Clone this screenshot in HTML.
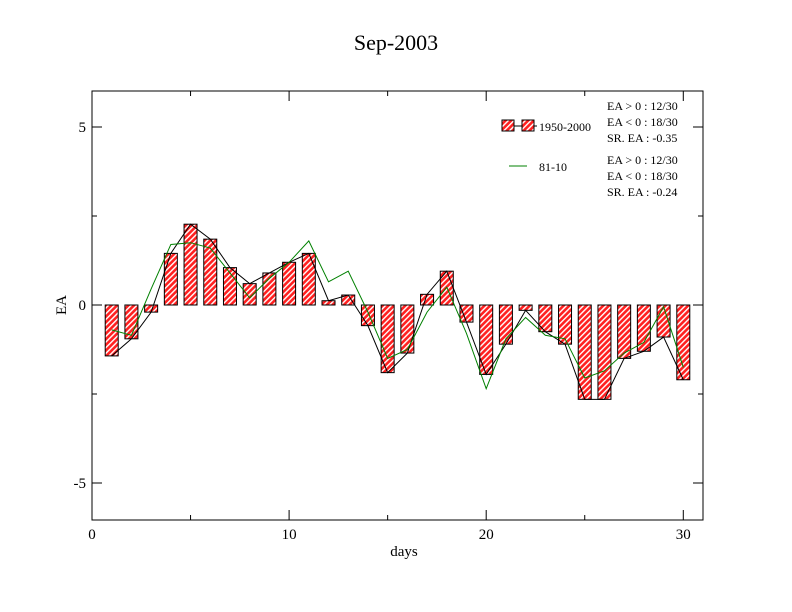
<!DOCTYPE html>
<html><head><meta charset="utf-8"><style>
body{margin:0;background:#fff}
svg{display:block;font-family:"Liberation Serif",serif}
</style></head><body>
<svg width="792" height="612">
<defs>
<pattern id="hatch" width="4" height="4" patternUnits="userSpaceOnUse" patternTransform="rotate(45)">
<rect width="4" height="4" fill="#ff2020"/><rect width="1.4" height="4" fill="#fff"/>
</pattern>
</defs>
<text x="396" y="50" font-size="22" text-anchor="middle">Sep-2003</text>
<rect x="92" y="91" width="611" height="429" fill="none" stroke="#000"/>
<g id="axes"></g>
<g id="bars"></g>
<g id="lines"></g>
<text x="404" y="556" font-size="15" text-anchor="middle">days</text>
<text x="66" y="305" font-size="15" text-anchor="middle" transform="rotate(-90 66 305)">EA</text>
<g font-size="12">
<line x1="502" y1="126" x2="537" y2="126" stroke="#000"/>
<rect x="502" y="120" width="12" height="11" fill="url(#hatch)" stroke="#000"/>
<rect x="522" y="120" width="12" height="11" fill="url(#hatch)" stroke="#000"/>
<text x="539" y="131">1950-2000</text>
<line x1="509" y1="166" x2="527" y2="166" stroke="#008000"/>
<text x="539" y="171">81-10</text>
<text x="607" y="110">EA &gt; 0 : 12/30</text>
<text x="607" y="126">EA &lt; 0 : 18/30</text>
<text x="607" y="142">SR. EA : -0.35</text>
<text x="607" y="164">EA &gt; 0 : 12/30</text>
<text x="607" y="180">EA &lt; 0 : 18/30</text>
<text x="607" y="196">SR. EA : -0.24</text>
</g>
</svg>
<script>
const days=[1,2,3,4,5,6,7,8,9,10,11,12,13,14,15,16,17,18,19,20,21,22,23,24,25,26,27,28,29,30];
const ea5000=[-1.43,-0.95,-0.2,1.45,2.27,1.85,1.05,0.6,0.9,1.2,1.45,0.12,0.28,-0.58,-1.9,-1.35,0.3,0.95,-0.48,-1.95,-1.1,-0.15,-0.75,-1.1,-2.65,-2.65,-1.5,-1.3,-0.9,-2.1];
const ea8110=[-0.7,-0.85,0.45,1.7,1.75,1.6,0.9,0.2,0.75,1.2,1.8,0.65,0.95,-0.2,-1.5,-1.25,-0.2,0.5,-0.8,-2.35,-0.95,-0.35,-0.85,-0.95,-2.05,-1.85,-1.35,-1.05,-0.05,-1.75];
const xTicks=[0,10,20,30];
const yTicks=[-5,0,5];
const NS='http://www.w3.org/2000/svg';
const X=v=>92+v*(611/31), Y=v=>305-v*35.6;
function mk(t,a,p){const e=document.createElementNS(NS,t);for(const k in a)e.setAttribute(k,a[k]);p.appendChild(e);return e;}
const ax=document.getElementById('axes');
xTicks.forEach(t=>{
 const l=mk('line',{x1:X(t),x2:X(t),y1:520,y2:510,stroke:'#000'},ax);
 
 
 mk('line',{x1:X(t),x2:X(t),y1:91,y2:101,stroke:'#000'},ax);
 const tx=mk('text',{x:X(t),y:539,'font-size':15,'text-anchor':'middle'},ax);tx.textContent=t;
 
 
});
[5,15,25].forEach(t=>{mk('line',{x1:X(t),x2:X(t),y1:520,y2:515,stroke:'#000'},ax);mk('line',{x1:X(t),x2:X(t),y1:91,y2:96,stroke:'#000'},ax);});
yTicks.forEach(t=>{
 const l=mk('line',{x1:92,x2:102,y1:Y(t),y2:Y(t),stroke:'#000'},ax);
 
 
 mk('line',{x1:693,x2:703,y1:Y(t),y2:Y(t),stroke:'#000'},ax);
 const tx=mk('text',{x:86,y:Y(t)+5,'font-size':15,'text-anchor':'end'},ax);tx.textContent=t;
 
 
});
[-2.5,2.5].forEach(t=>{mk('line',{x1:92,x2:97,y1:Y(t),y2:Y(t),stroke:'#000'},ax);mk('line',{x1:698,x2:703,y1:Y(t),y2:Y(t),stroke:'#000'},ax);});
const bg=document.getElementById('bars');
days.forEach((d,i)=>{
 const v=ea5000[i];
 const r=mk('rect',{x:X(d)-6.5,y:Math.min(Y(v),Y(0)),width:13,height:Math.abs(Y(v)-Y(0)),fill:'url(#hatch)',stroke:'#000','stroke-width':1},bg);
 
 
});
const lg=document.getElementById('lines');
const p1=mk('polyline',{points:days.map((d,i)=>X(d)+','+Y(ea5000[i])).join(' '),fill:'none',stroke:'#000'},lg);


const p2=mk('polyline',{points:days.map((d,i)=>X(d)+','+Y(ea8110[i])).join(' '),fill:'none',stroke:'#008000'},lg);


</script>
</body></html>
